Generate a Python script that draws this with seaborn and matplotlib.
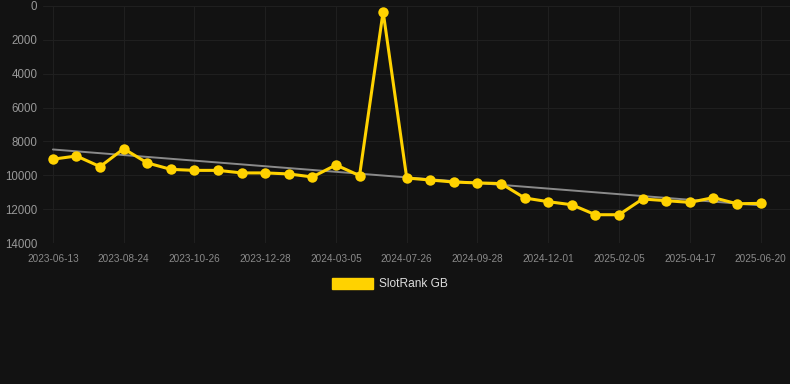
import numpy as np
import pandas as pd
import matplotlib
matplotlib.use("Agg")
import matplotlib.pyplot as plt
from matplotlib.patches import Patch
import seaborn as sns

# ── data ──────────────────────────────────────────────────────────────────────
dates = [
    "2023-06-13", "2023-07-07", "2023-07-31", "2023-08-24", "2023-09-14",
    "2023-10-05", "2023-10-26", "2023-11-16", "2023-12-07", "2023-12-28",
    "2024-01-20", "2024-02-12", "2024-03-05", "2024-04-21", "2024-06-08",
    "2024-07-26", "2024-08-17", "2024-09-07", "2024-09-28", "2024-10-19",
    "2024-11-10", "2024-12-01", "2024-12-23", "2025-01-14", "2025-02-05",
    "2025-02-28", "2025-03-25", "2025-04-17", "2025-05-08", "2025-05-29",
    "2025-06-20",
]
rank = [
    9050, 8860, 9490, 8430, 9270, 9650, 9710, 9710, 9860, 9860,
    9920, 10100, 9390, 10020, 335, 10160, 10280, 10400, 10450, 10490,
    11340, 11560, 11740, 12330, 12330, 11400, 11500, 11600, 11320, 11680,
    11660,
]
y_ticks = [0, 2000, 4000, 6000, 8000, 10000, 12000, 14000]
series_name = "SlotRank GB"

# ── style ─────────────────────────────────────────────────────────────────────
BG = "#121212"
GOLD = "#FFD200"
GRID = "#1f1f1f"
sns.set_theme(style="dark")
plt.rcParams["font.family"] = ["Liberation Sans", "DejaVu Sans"]

df = pd.DataFrame({"idx": np.arange(len(dates)), "date": dates, "rank": rank})

fig = plt.figure(figsize=(7.9, 3.84), dpi=100, facecolor=BG)
ax = fig.add_axes([43 / 790, 1 - 243 / 384, 1 - 43 / 790, (243 - 6) / 384])
ax.set_facecolor(BG)

# trend line
sns.regplot(data=df, x="idx", y="rank", scatter=False, ci=None, truncate=True,
            line_kws={"color": "#8a8a8a", "lw": 1.4, "zorder": 2}, ax=ax)

# main series
sns.lineplot(data=df, x="idx", y="rank", color=GOLD, lw=2.2, marker="o",
             markersize=7.5, markeredgewidth=0, zorder=3, ax=ax)

ax.set_ylim(14000, 0)
ax.set_xlim(-0.42, len(dates) - 1 + 1.25)
ax.set_yticks(y_ticks)
ax.set_yticklabels([str(v) for v in y_ticks])
tick_pos = list(range(0, len(dates), 3))
ax.set_xticks(tick_pos)
ax.set_xticklabels([dates[i] for i in tick_pos])

ax.grid(True, color=GRID, lw=0.8)
for s in ax.spines.values():
    s.set_visible(False)
ax.tick_params(axis="y", colors="#999999", labelsize=8.3, length=0, pad=4)
ax.tick_params(axis="x", colors=GRID, labelcolor="#8a8a8a",
               labelsize=7.2, length=4, pad=4)
ax.set_xlabel("")
ax.set_ylabel("")

fig.legend(handles=[Patch(facecolor=GOLD, edgecolor=GOLD, label=series_name)],
           loc="center", bbox_to_anchor=(390 / 790, 1 - 284 / 384),
           frameon=False, fontsize=8.6, labelcolor="#dddddd",
           handlelength=3.4, handleheight=1.1, handletextpad=0.5)

fig.savefig("out.png", dpi=100, facecolor=BG)
